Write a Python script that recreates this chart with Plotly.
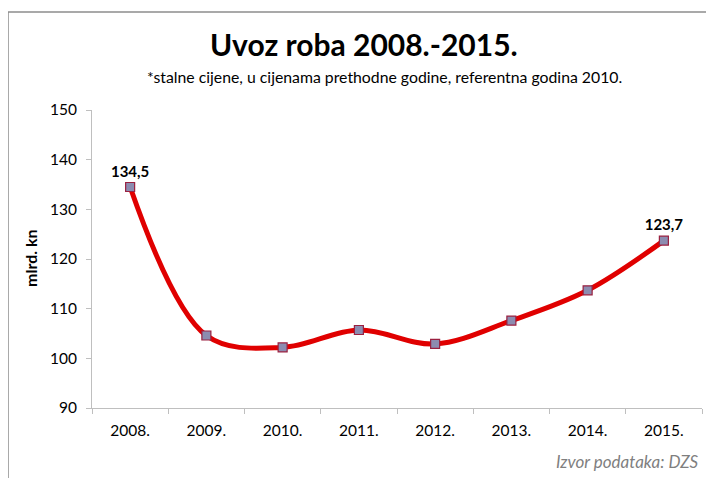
import plotly.graph_objects as go

years = ["2008.", "2009.", "2010.", "2011.", "2012.", "2013.", "2014.", "2015."]
values = [134.5, 104.6, 102.2, 105.7, 102.9, 107.6, 113.7, 123.7]
labels = ["134,5", "", "", "", "", "", "", "123,7"]

FONT = "Lato"
OFF = 8  # page body margin
W, H = 714 - 2 * OFF, 478 - OFF
ML, MT = 92 - OFF, 110 - OFF
MR = W - (702 - OFF)
MB = H - (408 - OFF)
PW, PH = W - ML - MR, H - MT - MB

fig = go.Figure()
fig.add_trace(go.Scatter(
    x=years, y=values,
    mode="lines+markers+text",
    line=dict(color="#e00000", width=5, shape="spline", smoothing=1.0),
    marker=dict(symbol="square", size=9, color="#8c8cb0", line=dict(color="#9a2040", width=1.2)),
    text=labels, textposition="top center",
    textfont=dict(family=FONT, size=15, color="#000000", weight="bold"),
    cliponaxis=False, hoverinfo="skip",
))

def px_x(p):
    return (p - OFF - ML) / PW

def px_y(p):
    return 1 - (p - OFF - MT) / PH

shapes = [
    dict(type="line", xref="paper", yref="paper", x0=px_x(8), x1=px_x(8), y0=px_y(490), y1=px_y(12),
         line=dict(color="#8c8c8c", width=1.5)),
    dict(type="line", xref="paper", yref="paper", x0=px_x(8), x1=px_x(720), y0=px_y(12), y1=px_y(12),
         line=dict(color="#8c8c8c", width=1.5)),
]

annotations = [
    dict(text="<b>Uvoz roba 2008.-2015.</b>", xref="paper", yref="paper", x=px_x(364), y=px_y(44),
         showarrow=False, font=dict(family=FONT, size=30, color="#000000"), xanchor="center", yanchor="middle"),
    dict(text="*stalne cijene, u cijenama prethodne godine, referentna godina 2010.", xref="paper", yref="paper",
         x=px_x(384), y=px_y(76), showarrow=False, font=dict(family=FONT, size=15.8, color="#000000"),
         xanchor="center", yanchor="middle"),
    dict(text="<b>mlrd. kn</b>", xref="paper", yref="paper", x=px_x(30), y=px_y(259), textangle=-90,
         showarrow=False, font=dict(family=FONT, size=16, color="#000000"), xanchor="center", yanchor="middle"),
    dict(text="<i>Izvor podataka: DZS</i>", xref="paper", yref="paper", x=px_x(701), y=px_y(461),
         showarrow=False, font=dict(family=FONT, size=17, color="#7f7f7f"), xanchor="right", yanchor="middle"),
]

fig.update_layout(
    width=W, height=H,
    margin=dict(l=ML, r=MR, t=MT, b=MB),
    paper_bgcolor="white", plot_bgcolor="white",
    showlegend=False,
    shapes=shapes, annotations=annotations,
    font=dict(family=FONT, size=15, color="#000000"),
    xaxis=dict(type="category", range=[-0.5, 7.5], showgrid=False, showline=True, linecolor="#bfbfbf",
               linewidth=1, ticks="outside", tickson="boundaries", ticklen=5, tickcolor="#bfbfbf",
               ticklabelstandoff=8,
               tickfont=dict(family=FONT, size=15.5, color="#000000"), zeroline=False, fixedrange=True),
    yaxis=dict(range=[90, 150], dtick=10, tick0=90, showgrid=False, showline=True, linecolor="#bfbfbf",
               linewidth=1, ticks="outside", ticklen=5, tickcolor="#bfbfbf",
               ticklabelstandoff=6,
               tickfont=dict(family=FONT, size=15.5, color="#000000"), zeroline=False, fixedrange=True),
)

fig.write_html("out.html")
